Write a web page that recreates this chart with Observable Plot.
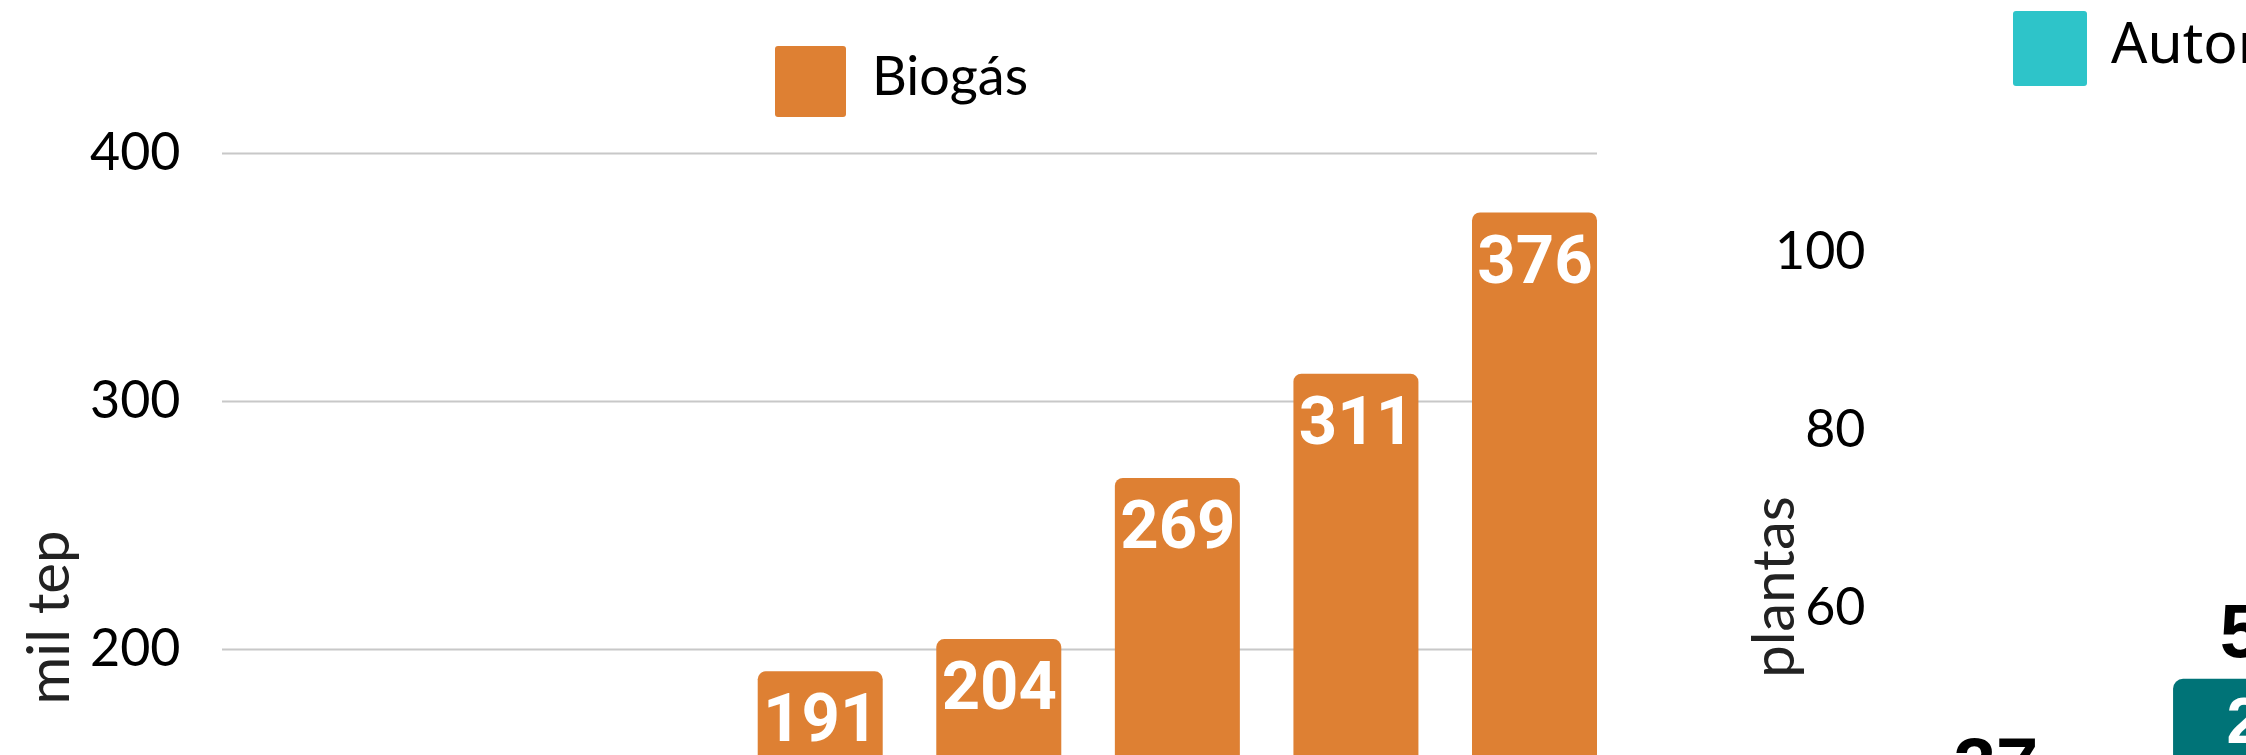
<!DOCTYPE html>
<html>
<head>
<meta charset="utf-8">
<script src="https://cdn.jsdelivr.net/npm/d3@7"></script>
<script src="https://cdn.jsdelivr.net/npm/@observablehq/plot@0.6"></script>
<style>
  html, body { margin: 0; padding: 0; background: #fff; overflow: hidden; }
  #stage { position: relative; width: 2246px; height: 755px; overflow: hidden; background: #fff; }
  .chart { position: absolute; top: 0; }
  .chart svg { max-width: none !important; }
  .sw { position: absolute; border-radius: 3px; }
  .lt { position: absolute; line-height: 1; white-space: nowrap; color: #000; }
  .legR { position: absolute; display: flex; align-items: flex-start; white-space: nowrap; }
  .legR .item { display: flex; align-items: flex-start; margin-right: 60px; }
  .legR .box { width: 74px; height: 75px; border-radius: 3px; }
  .legR .txt { font-family: "Noto Sans", sans-serif; font-size: 57px; line-height: 1; margin-left: 24px; margin-top: 2px; }
</style>
</head>
<body>
<div id="stage">
  <div id="left" class="chart" style="left:0px; width:1640px;"></div>
  <div id="right" class="chart" style="left:1600px; width:770px;"></div>
  <div class="sw" id="swL" style="left:775px; top:46px; width:71px; height:71px;"></div>
  <div class="lt" id="txtL" style="left:872px; top:48px; font-family: Lato, sans-serif; font-size:54px;"></div>
  <div class="legR" id="legR" style="left:2013px; top:11px;"></div>
</div>
<script>
// ---------- Left chart data (Biogás, mil tep) ----------
const years = ["2015", "2016", "2017", "2018", "2019", "2020", "2021", "2022"];
const biogas = [118, 134, 150, 191, 204, 269, 311, 376];
const yTicksLeft = [0, 100, 200, 300, 400];
const leftSeries = "Biogás";
const leftUnit = "mil tep";

// ---------- Right chart data (plantas) ----------
const categories = ["2021", "2022"];
const seriesNames = ["Autorizadas", "Em operação"];
const autorizadas = [20, 28];
const emOperacao = [17, 24];
const yTicksRight = [0, 20, 40, 60, 80, 100];
const rightUnit = "plantas";

const colors = { biogas: "#DE8033", autorizadas: "#2EC4C9", emOperacao: "#007377" };

// ---------- Legends ----------
document.getElementById("swL").style.background = colors.biogas;
document.getElementById("txtL").textContent = leftSeries;
const legR = document.getElementById("legR");
[[seriesNames[0], colors.autorizadas], [seriesNames[1], colors.emOperacao]].forEach(([name, c]) => {
  const it = document.createElement("div"); it.className = "item";
  const b = document.createElement("div"); b.className = "box"; b.style.background = c;
  const t = document.createElement("div"); t.className = "txt"; t.textContent = name;
  it.appendChild(b); it.appendChild(t); legR.appendChild(it);
});

// ---------- Left chart ----------
const leftData = years.map((y, i) => ({ year: y, value: biogas[i] }));
const leftPlot = Plot.plot({
  width: 1640,
  height: 1205,
  marginLeft: 222,
  marginRight: 43,
  marginTop: 153,
  marginBottom: 60,
  style: { fontFamily: "Lato, sans-serif", fontSize: "52px", color: "#000", background: "transparent", overflow: "visible", maxWidth: "none" },
  x: { domain: years, paddingInner: 0.3, paddingOuter: 0, round: false, axis: null },
  y: { domain: [0, 400] },
  marks: [
    Plot.gridY(yTicksLeft, { stroke: "#c8c8c8", strokeOpacity: 1, strokeWidth: 2 }),
    Plot.axisY(yTicksLeft, { tickSize: 0, tickPadding: 42, fontSize: 52, label: null, tickFormat: d => String(d) }),
    Plot.barY(leftData, { x: "year", y: "value", fill: colors.biogas, rx: 8 }),
    Plot.text(leftData, {
      x: "year", y: "value", text: d => String(d.value),
      lineAnchor: "top", dy: 22, fill: "white",
      fontFamily: "Roboto", fontWeight: "bold", fontSize: 67
    }),
    Plot.text([leftUnit], {
      frameAnchor: "left", text: d => d, rotate: -90,
      textAnchor: "middle", lineAnchor: "middle",
      dx: -172, dy: -32, fontSize: 58, fill: "#222", fontFamily: "Lato"
    })
  ]
});
document.getElementById("left").appendChild(leftPlot);

// ---------- Right chart ----------
const rightData = categories.flatMap((c, i) => [
  { cat: c, series: seriesNames[0], value: autorizadas[i] },
  { cat: c, series: seriesNames[1], value: emOperacao[i] }
]);
const totals = categories.map((c, i) => ({ cat: c, total: autorizadas[i] + emOperacao[i] }));

const rightPlot = Plot.plot({
  width: 770,
  height: 1201,
  marginLeft: 307,
  marginRight: 20,
  marginTop: 252,
  marginBottom: 60,
  style: { fontFamily: "Lato, sans-serif", fontSize: "52px", color: "#000", background: "transparent", overflow: "visible", maxWidth: "none" },
  x: { domain: categories, paddingInner: 0.335, paddingOuter: 0, round: false, axis: null },
  y: { domain: [0, 100] },
  color: { domain: seriesNames, range: [colors.autorizadas, colors.emOperacao] },
  marks: [
    Plot.axisY(yTicksRight, { tickSize: 0, tickPadding: 42, fontSize: 52, label: null, tickFormat: d => String(d) }),
    Plot.barY(rightData, { x: "cat", y: "value", fill: "series", z: "series", rx: 10 }),
    Plot.text(rightData, Plot.stackY2({
      x: "cat", y: "value", z: "series", text: d => String(d.value),
      lineAnchor: "top", dy: 18, fill: "white",
      fontFamily: "Liberation Sans", fontWeight: "bold", fontSize: 64
    })),
    Plot.text(totals, {
      x: "cat", y: "total", text: d => String(d.total),
      lineAnchor: "bottom", dy: -22, fill: "#000",
      fontFamily: "Liberation Sans", fontWeight: "bold", fontSize: 76
    }),
    Plot.text([rightUnit], {
      frameAnchor: "left", text: d => d, rotate: -90,
      textAnchor: "middle", lineAnchor: "middle",
      dx: -132, dy: -110, fontSize: 58, fill: "#222", fontFamily: "Lato"
    })
  ]
});
document.getElementById("right").appendChild(rightPlot);
</script>
</body>
</html>
